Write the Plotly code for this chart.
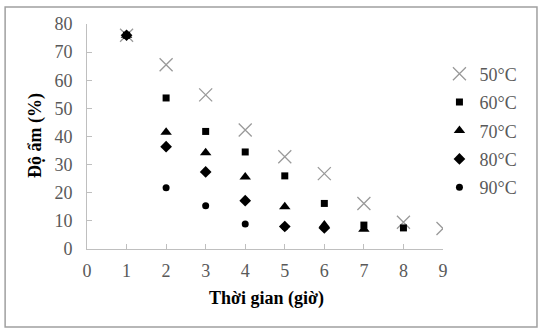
import plotly.graph_objects as go

hours = [1, 2, 3, 4, 5, 6, 7, 8, 9]
series_names = ["50°C", "60°C", "70°C", "80°C", "90°C"]
m50 = [76, 65.5, 54.8, 42.3, 32.8, 26.8, 16.2, 9.5, 7.3]
m60 = [76, 53.7, 41.8, 34.5, 26.0, 16.2, 8.5, 7.5]
m70 = [76, 41.5, 34.2, 25.6, 15.0, 8.5, 7.0]
m80 = [76, 36.4, 27.4, 17.2, 8.0, 7.5]
m90 = [76, 21.8, 15.4, 8.9, 7.8]
values = [m50, m60, m70, m80, m90]

x_ticks = list(range(0, 10))
y_ticks = list(range(0, 90, 10))

symbols = ["x-thin-open", "square", "triangle-up", "diamond", "circle"]
sizes = [13, 7, 10, 9, 7]
colors = ["#9a9a9a", "black", "black", "black", "black"]

FONT = "Liberation Serif"
GRAY = "#595959"
AX = "#bfbfbf"

fig = go.Figure()
for i, (name, vals) in enumerate(zip(series_names, values)):
    mk = dict(symbol=symbols[i], size=sizes[i], color=colors[i])
    if i == 0:
        mk["line"] = dict(color=colors[i], width=1.3)
    fig.add_trace(go.Scatter(
        x=hours[:len(vals)], y=vals, mode="markers", name=name,
        legendgroup=name, marker=mk,
    ))

fig.update_layout(
    width=539, height=329,
    margin=dict(l=87, r=96, t=24, b=80),
    paper_bgcolor="white", plot_bgcolor="white",
    font=dict(family=FONT, size=18, color=GRAY),
    showlegend=True,
    legend=dict(x=0.99, y=0.86, xanchor="left", yanchor="top",
                font=dict(family=FONT, size=18, color=GRAY),
                tracegroupgap=2, itemwidth=30, bgcolor="rgba(0,0,0,0)"),
    xaxis=dict(range=[0, 9], tickvals=x_ticks, showline=True, linecolor=AX,
               linewidth=1, ticks="inside", ticklen=5, tickcolor=AX,
               showgrid=False, zeroline=False, ticklabelstandoff=5,
               tickfont=dict(family=FONT, size=18, color=GRAY)),
    yaxis=dict(range=[0, 80], tickvals=y_ticks, showline=True, linecolor=AX,
               linewidth=1, ticks="inside", ticklen=5, tickcolor=AX,
               showgrid=False, zeroline=False, ticklabelstandoff=10,
               tickfont=dict(family=FONT, size=18, color=GRAY)),
    annotations=[
        dict(text="<b>Thời gian (giờ)</b>", xref="paper", yref="paper",
             x=0.503, y=-0.222, xanchor="center", yanchor="middle",
             showarrow=False,
             font=dict(family=FONT, size=18, color="black")),
        dict(text="<b>Độ ẩm (%)</b>", xref="paper", yref="paper",
             x=-0.146, y=0.502, xanchor="center", yanchor="middle",
             showarrow=False, textangle=-90,
             font=dict(family=FONT, size=18, color="black")),
    ],
    shapes=[dict(type="rect", xref="paper", yref="paper",
                 x0=-0.230, x1=1.264, y0=-0.3467, y1=1.0756,
                 line=dict(color="#a0a0a0", width=1.5))],
)

fig.write_html("out.html")
